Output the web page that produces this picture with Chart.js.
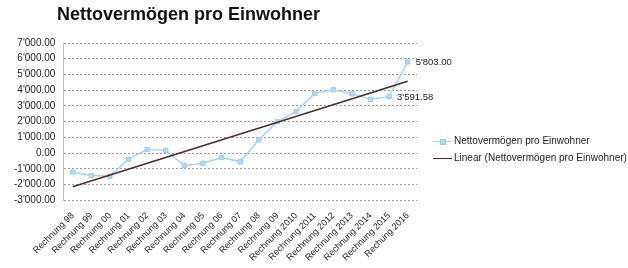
<!DOCTYPE html>
<html>
<head>
<meta charset="utf-8">
<script src="https://cdn.jsdelivr.net/npm/chart.js@4"></script>
<style>
  html, body { margin: 0; padding: 0; background: #fff; }
  #wrap { position: relative; width: 628px; height: 268px; font-family: Arial, "Liberation Sans", sans-serif; }
  #title { position: absolute; left: 57px; top: 4px; font-size: 18px; font-weight: bold; color: #111; }
  #legend { position: absolute; left: 433px; top: 134px; font-size: 10px; color: #222; }
  .item { position: relative; height: 17px; line-height: 14px; padding-left: 21px; white-space: nowrap; }
  .item .ln { position: absolute; left: 0; top: 7px; width: 19px; height: 0; border-top: 1.5px solid; }
  .item .mk { position: absolute; left: 7px; top: 5px; width: 4px; height: 4px; background: #b5d9f2; border: 1px solid #9cc9ec; }
</style>
</head>
<body>
<div id="wrap">
  <canvas id="lineChart" width="628" height="268"></canvas>
  <div id="title">Nettovermögen pro Einwohner</div>
  <div id="legend"></div>
</div>
<script>
const categories = ['Rechnung 98', 'Rechnung 99', 'Rechnung 00', 'Rechnung 01', 'Rechnung 02',
    'Rechnung 03', 'Rechnung 04', 'Rechnung 05', 'Rechnung 06', 'Rechnung 07', 'Rechnung 08',
    'Rechnung 09', 'Rechnung 2010', 'Rechnung 2011', 'Rechnung 2012', 'Rechnung 2013',
    'Rechnung 2014', 'Rechnung 2015', 'Rechung 2016'];
const netWorth = [-1200, -1420, -1460, -380, 250, 180, -790, -640, -280, -550, 850,
    2000, 2640, 3800, 4030, 3770, 3420, 3591.58, 5803];
// trend line read at its two ends
const trendEnds = [-2130, 4570];
const labelledPoints = [17, 18];
const seriesNames = ['Nettovermögen pro Einwohner', 'Linear (Nettovermögen pro Einwohner)'];

function swissFormat(v) {
    let parts = Math.abs(v).toFixed(2).split('.');
    parts[0] = parts[0].replace(/\B(?=(\d{3})+(?!\d))/g, "'");
    return (v < 0 ? '-' : '') + parts[0] + '.' + parts[1];
}

const trendData = categories.map(function (c, i) {
    if (i === 0) return trendEnds[0];
    if (i === categories.length - 1) return trendEnds[1];
    return null;
});

const pointLabels = {
    id: 'pointLabels',
    afterDatasetsDraw(chart) {
        const ctx = chart.ctx;
        const meta = chart.getDatasetMeta(0);
        ctx.save();
        ctx.font = '9.5px Arial, "Liberation Sans", sans-serif';
        ctx.fillStyle = '#222';
        ctx.textBaseline = 'middle';
        labelledPoints.forEach(function (i) {
            const p = meta.data[i];
            ctx.fillText(swissFormat(netWorth[i]), p.x + 8, p.y + 1);
        });
        ctx.restore();
    }
};

const colors = ['#a9d2f0', '#4d2a2a'];

new Chart(document.getElementById('lineChart'), {
    type: 'line',
    data: {
        labels: categories,
        datasets: [
            {
                label: seriesNames[0],
                data: netWorth,
                borderColor: colors[0],
                backgroundColor: '#b5d9f2',
                borderWidth: 1.5,
                pointStyle: 'rect',
                pointRadius: 3,
                pointBorderColor: '#9cc9ec',
                pointBorderWidth: 1,
                tension: 0,
                order: 1
            },
            {
                label: seriesNames[1],
                data: trendData,
                spanGaps: true,
                borderColor: colors[1],
                borderWidth: 1.5,
                pointRadius: 0,
                tension: 0,
                order: 0
            }
        ]
    },
    options: {
        responsive: false,
        animation: false,
        layout: { padding: { left: 6, right: 211, top: 43, bottom: 3 } },
        plugins: {
            legend: { display: false },
            tooltip: { enabled: false }
        },
        scales: {
            x: {
                offset: true,
                grid: { display: false },
                border: { display: false },
                ticks: {
                    autoSkip: false,
                    minRotation: 45,
                    maxRotation: 45,
                    padding: 2,
                    color: '#222',
                    font: { family: 'Arial, "Liberation Sans", sans-serif', size: 9 }
                }
            },
            y: {
                min: -3000,
                max: 7000,
                ticks: {
                    stepSize: 1000,
                    padding: 8,
                    color: '#222',
                    font: { family: 'Arial, "Liberation Sans", sans-serif', size: 10 },
                    callback: function (v) { return swissFormat(v); }
                },
                grid: { color: '#9a9a9a', lineWidth: 1, drawTicks: false },
                border: { display: true, color: '#a8c4e4', dash: [2, 2] }
            }
        }
    },
    plugins: [pointLabels]
});

// legend as plain html next to the plot
const legendEl = document.getElementById('legend');
seriesNames.forEach(function (name, i) {
    const row = document.createElement('div');
    row.className = 'item';
    row.innerHTML = '<span class="ln" style="border-color:' + colors[i] + '"></span>' +
        (i === 0 ? '<span class="mk"></span>' : '') + name;
    legendEl.appendChild(row);
});
</script>
</body>
</html>
